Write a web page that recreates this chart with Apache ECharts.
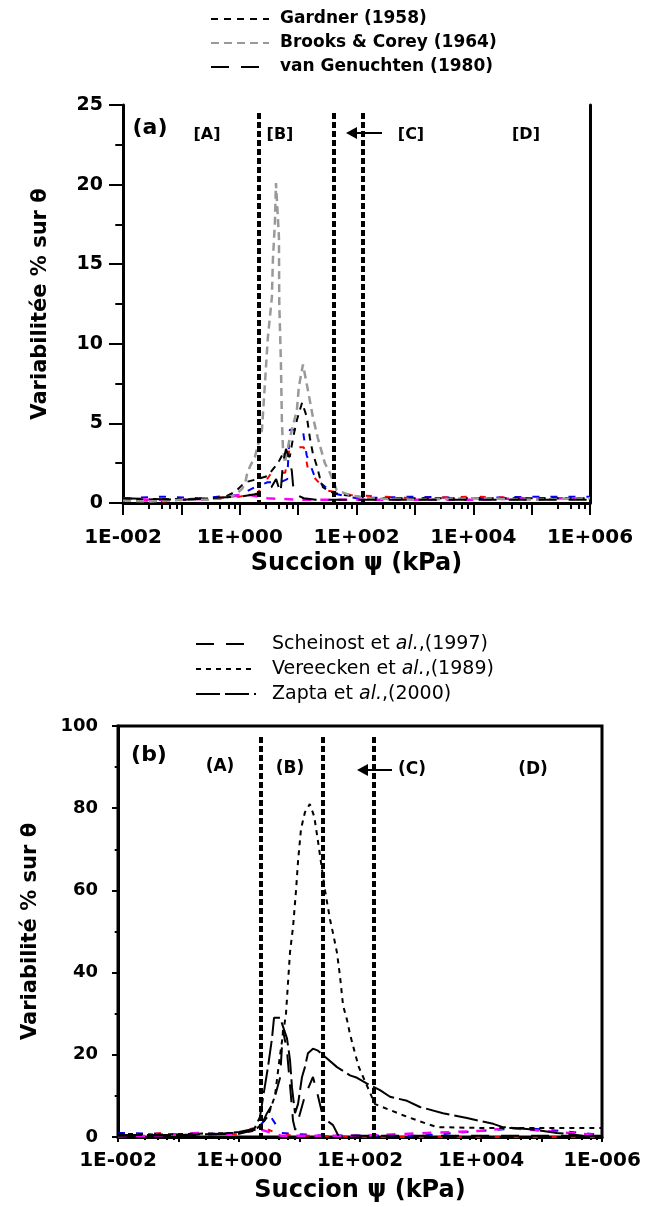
<!DOCTYPE html>
<html>
<head>
<meta charset="utf-8">
<script src="https://cdn.jsdelivr.net/npm/echarts@6.0.0/dist/echarts.min.js"></script>
<style>
  html, body { margin: 0; background: #fff; }
  #chart { width: 646px; height: 1207px; }
</style>
</head>
<body>
<div id="chart"></div>
<script>
// tick labels
const xTicksA = ['1E-002', '1E+000', '1E+002', '1E+004', '1E+006'];
const xTicksB = ['1E-002', '1E+000', '1E+002', '1E+004', '1E-006'];

// zone limits (kPa)
const zonesA = [2.13, 40, 130];
const zonesB = [2.3, 24.5, 170];

// panel (a) : [suction kPa, variability %]
const gardner = [[0.01,0.2],[0.1,0.25],[0.5,0.3],[0.83,0.7],[1.23,1.3],[2.0,1.5],[3.0,1.7],[4.5,2.5],[5.5,3.1],[7.2,2.9],[8.2,4.1],[9.5,5.2],[11.7,6.3],[14.1,5.4],[15.9,4.1],[17.9,3.1],[21,2.3],[23.5,1.6],[26.6,1.0],[35,0.7],[60,0.5],[200,0.3],[1e4,0.3],[1e6,0.3]];
const brooksCorey = [[0.01,0.15],[0.03,0.1],[0.1,0.2],[0.3,0.2],[0.7,0.4],[0.9,0.6],[1.1,0.9],[1.25,1.3],[1.33,1.8],[1.5,2.3],[1.82,2.9],[2.4,4.6],[2.7,7.5],[3.03,10.4],[3.55,12.9],[3.7,15.3],[4.0,17.6],[4.17,20.1],[4.69,16.7],[4.75,12.6],[5.07,8.8],[5.27,5.2],[5.49,3.5],[5.94,2.5],[7.2,4.1],[9.5,5.8],[10.3,7.3],[12.1,8.7],[14.7,7.1],[17.9,5.4],[21.7,4.1],[28.7,2.5],[35,1.9],[45.8,0.8],[77,0.5],[150,0.3],[1000,0.2],[1e4,0.3],[1e5,0.2],[1e6,0.3]];
const vanGenuchten = [[0.01,0.3],[0.1,0.2],[1,0.4],[2.2,0.6],[3.5,1.0],[4.2,1.5],[5,0.6],[5.5,2.5],[6.2,3.4],[7.2,2.7],[7.8,2.0],[8.2,1.1],[9.5,0.5],[12.5,0.3],[20,0.2],[1e6,0.2]];
const blueA = [[0.01,0.3],[0.05,0.4],[0.2,0.3],[1,0.5],[1.82,1],[3,1.3],[5,1.3],[6.5,1.5],[7.2,4.6],[12,4.6],[14,3],[20,1.5],[40,0.6],[100,0.3],[1e3,0.4],[1e4,0.3],[1e5,0.4],[1e6,0.4]];
const redA = [[0.01,0.2],[0.05,0.1],[0.3,0.3],[1,0.4],[2,0.6],[3.5,1.9],[6,1.9],[7.2,3.5],[12.5,3.5],[15,2],[30,0.8],[80,0.5],[1e3,0.3],[1e4,0.4],[1e5,0.3],[1e6,0.3]];
const magentaA = [[0.01,0.3],[0.03,0.2],[0.1,0.2],[0.5,0.3],[1,0.5],[1.5,0.5],[3,0.3],[10,0.2],[100,0.2],[1e3,0.2],[1e4,0.2],[1e5,0.3],[1e6,0.3]];

// panel (b)
const scheinost = [[0.01,0.3],[0.1,0.4],[1,0.8],[2.2,2],[2.9,5.8],[3.65,8.2],[4.77,14.4],[5.33,26],[6.21,21],[6.97,12.6],[7.81,4],[8.5,1.7],[9.45,4],[12.3,10],[16.7,14.6],[20.2,10],[23.6,5.8],[28.5,4],[35.8,2.9],[43.3,0.5],[100,0.3],[1e3,0.3],[1e4,0.3],[1e6,0.3]];
const vereecken = [[0.01,0.8],[0.05,0.6],[0.2,0.8],[1,1],[1.8,1.5],[2.31,3],[3.0,5],[3.93,10],[4.77,20],[5.98,30],[6.97,45],[7.81,51],[8.76,60],[9.45,67],[10.6,75],[12.3,79],[14.8,81],[17.5,78],[20.2,72],[26.4,60],[31.9,53],[35.8,49.6],[41.7,44.8],[46.8,39],[52.5,32],[61,28.5],[68.4,25],[82.6,20.4],[95.7,17],[177,8],[515,5.3],[980,3.8],[1870,2.4],[1e4,2.2],[1e5,2.2],[1e6,2.2]];
const zapta = [[0.01,0.5],[0.1,0.5],[0.5,0.8],[1,1.2],[1.8,2],[2.22,4.9],[3.01,17],[3.51,24],[3.79,29],[4.77,29],[6.21,24],[6.97,18.7],[7.52,12],[8.43,5.8],[9.45,8],[11,14.6],[12.3,17],[13.8,20.4],[16.7,21.5],[20.2,21],[26.4,19.5],[41.7,17],[68.4,15],[89.3,14.4],[131,13],[214,11.4],[313,9.8],[598,8.8],[978,7.3],[2350,5.8],[5860,4.6],[1.59e4,3.2],[2.3e4,2.4],[6.4e4,1.9],[1.8e5,1],[4.9e5,0.3],[1e6,0.2]];
const blueB = [[0.01,1],[0.05,0.8],[0.2,0.6],[0.5,0.9],[1,0.8],[1.6,1.8],[2.3,3],[3.2,5.4],[5,1],[20,0.4],[1e3,0.3],[1e4,1.5],[5e4,2.2],[2e5,1.5],[1e6,0.5]];
const redB = [[0.01,0.4],[0.05,0.9],[0.2,0.5],[0.5,0.8],[1,0.6],[1.6,2],[2.3,2.5],[5,0.5],[100,0],[1e3,0],[1e4,0],[1e5,0],[1e6,0]];
const magentaB = [[0.01,0.2],[0.05,0.3],[0.2,1],[0.5,0.4],[1,1.2],[1.6,1.5],[2.3,1.8],[5,0.3],[100,0.3],[1e4,1.5],[3e4,2.2],[1e5,1.5],[1e6,0.4]];

const font = 'DejaVu Sans';

function logX(gi, labels, margin, nameGap) {
    return {
        type: 'log', gridIndex: gi, logBase: 10, min: 0.01, max: 1e6, splitNumber: 8,
        name: 'Succion ψ (kPa)', nameLocation: 'middle', nameGap: nameGap,
        nameTextStyle: { fontFamily: font, fontWeight: 'bold', fontSize: 24, color: '#000' },
        axisLine: { show: true, onZero: false, lineStyle: { color: '#000', width: 3 } },
        axisTick: { show: true, length: gi === 0 ? 12 : 5, lineStyle: { color: '#000', width: 2 } },
        minorTick: { show: true, splitNumber: 5, length: gi === 0 ? 6 : 3, lineStyle: { color: '#000', width: 2 } },
        splitLine: { show: false },
        axisLabel: {
            margin: margin, fontFamily: font, fontWeight: 'bold', fontSize: 20, color: '#000',
            showMinLabel: true, showMaxLabel: true,
            formatter: v => {
                const e = Math.round(Math.log10(v));
                return e % 2 === 0 ? labels[(e + 2) / 2] : '';
            }
        }
    };
}

function valY(gi, max, step, name, nameGap, tick, size) {
    return {
        type: 'value', gridIndex: gi, min: 0, max: max, interval: step,
        name: name, nameLocation: 'middle', nameGap: nameGap,
        nameTextStyle: { fontFamily: font, fontWeight: 'bold', fontSize: 21, color: '#000' },
        axisLine: { show: true, onZero: false, lineStyle: { color: '#000', width: 3 } },
        axisTick: { show: true, length: tick, lineStyle: { color: '#000', width: 2 } },
        minorTick: { show: true, splitNumber: 2, length: tick * 0.55, lineStyle: { color: '#000', width: 2 } },
        splitLine: { show: false },
        axisLabel: { margin: 20, fontFamily: font, fontWeight: 'bold', fontSize: size, color: '#000' }
    };
}

function curve(name, data, panel, color, width, dash) {
    return {
        name: name, type: 'line', data: data,
        xAxisIndex: panel, yAxisIndex: panel === 0 ? 0 : 2,
        showSymbol: false, symbol: 'none', smooth: false,
        lineStyle: { color: color, width: width, type: dash },
        itemStyle: { color: color }
    };
}

function zoneLines(xs, top) {
    return {
        silent: true, symbol: ['none', 'none'], label: { show: false },
        lineStyle: { color: '#000', width: 4, type: [6, 3] },
        data: xs.map(x => [{ coord: [x, top] }, { coord: [x, 0] }])
    };
}

const chart = echarts.init(document.getElementById('chart'));

// coloured traces lie underneath and only show as fragments
const seriesA = [
    curve('bA', blueA, 0, '#0000ff', 2, [7, 11]),
    curve('rA', redA, 0, '#ff0000', 2, [6, 13]),
    curve('mA', magentaA, 0, '#ff00ff', 2.5, [9, 9]),
    curve('Gardner (1958)', gardner, 0, '#000', 2, [7, 6]),
    curve('Brooks & Corey (1964)', brooksCorey, 0, '#999', 2.5, [8, 5]),
    curve('van Genuchten (1980)', vanGenuchten, 0, '#000', 2, [18, 12])
];
seriesA[5].markLine = zoneLines(zonesA, 24.5);

const seriesB = [
    curve('bB', blueB, 1, '#0000ff', 2, [7, 11]),
    curve('rB', redB, 1, '#ff0000', 2, [5, 14]),
    curve('mB', magentaB, 1, '#ff00ff', 2.5, [9, 9]),
    curve('Scheinost et al.,(1997)', scheinost, 1, '#000', 2, [18, 12]),
    curve('Vereecken et al.,(1989)', vereecken, 1, '#000', 2, [5, 5]),
    curve('Zapta et al.,(2000)', zapta, 1, '#000', 2, [24, 5])
];
seriesB[5].markLine = zoneLines(zonesB, 97.3);

function txt(s, x, y, size) {
    return { type: 'text', x: x, y: y, style: { text: s, fontFamily: font, fontWeight: 'bold', fontSize: size, fill: '#000', textAlign: 'center', textVerticalAlign: 'middle' } };
}
function arrow(x1, x2, y) {
    return [
        { type: 'line', shape: { x1: x2, y1: y, x2: x1 + 8, y2: y }, style: { stroke: '#000', lineWidth: 2 } },
        { type: 'polygon', shape: { points: [[x1, y], [x1 + 11, y - 6], [x1 + 11, y + 6]] }, style: { fill: '#000' } }
    ];
}

chart.setOption({
    animation: false,
    backgroundColor: '#fff',
    grid: [
        { left: 123, top: 105, width: 467, height: 398 },
        { left: 118, top: 726, width: 484, height: 411, show: true, borderColor: '#000', borderWidth: 3 }
    ],
    legend: [
        {
            data: ['Gardner (1958)', 'Brooks & Corey (1964)', 'van Genuchten (1980)'],
            orient: 'vertical', left: 205, top: 4, itemWidth: 58, itemHeight: 12, itemGap: 4,
            itemStyle: { opacity: 0 },
            textStyle: { fontFamily: font, fontWeight: 'bold', fontSize: 17, color: '#000', lineHeight: 20, padding: [0, 0, 0, 6] }
        },
        {
            data: ['Scheinost et al.,(1997)', 'Vereecken et al.,(1989)', 'Zapta et al.,(2000)'],
            orient: 'vertical', left: 190, top: 629, itemWidth: 60, itemHeight: 12, itemGap: 5,
            itemStyle: { opacity: 0 },
            formatter: n => n.replace('al.', '{i|al.}'),
            textStyle: {
                fontFamily: font, fontSize: 19, color: '#000', lineHeight: 20, padding: [0, 0, 0, 11],
                rich: { i: { fontFamily: font, fontStyle: 'italic', fontSize: 19, color: '#000' } }
            }
        }
    ],
    xAxis: [logX(0, xTicksA, 25, 49), logX(1, xTicksB, 14, 42)],
    yAxis: [
        valY(0, 25, 5, 'Variabilitée % sur θ', 72, 14, 19),
        {
            type: 'value', gridIndex: 0, position: 'right', min: 0, max: 25,
            axisLine: { show: true, onZero: false, lineStyle: { color: '#000', width: 3 } },
            axisTick: { show: false }, axisLabel: { show: false }, splitLine: { show: false }
        },
        valY(1, 100, 20, 'Variabilité % sur θ', 77, 6, 18)
    ],
    series: seriesA.concat(seriesB),
    graphic: [
        txt('(a)', 150, 128, 22), txt('[A]', 207, 135, 16), txt('[B]', 280, 135, 16),
        txt('[C]', 411, 135, 16), txt('[D]', 526, 135, 16),
        ...arrow(346, 382, 133),
        txt('(b)', 149, 755, 22), txt('(A)', 220, 767, 17), txt('(B)', 290, 769, 17),
        txt('(C)', 412, 770, 17), txt('(D)', 533, 770, 17),
        ...arrow(357, 392, 770)
    ]
});
</script>
</body>
</html>
